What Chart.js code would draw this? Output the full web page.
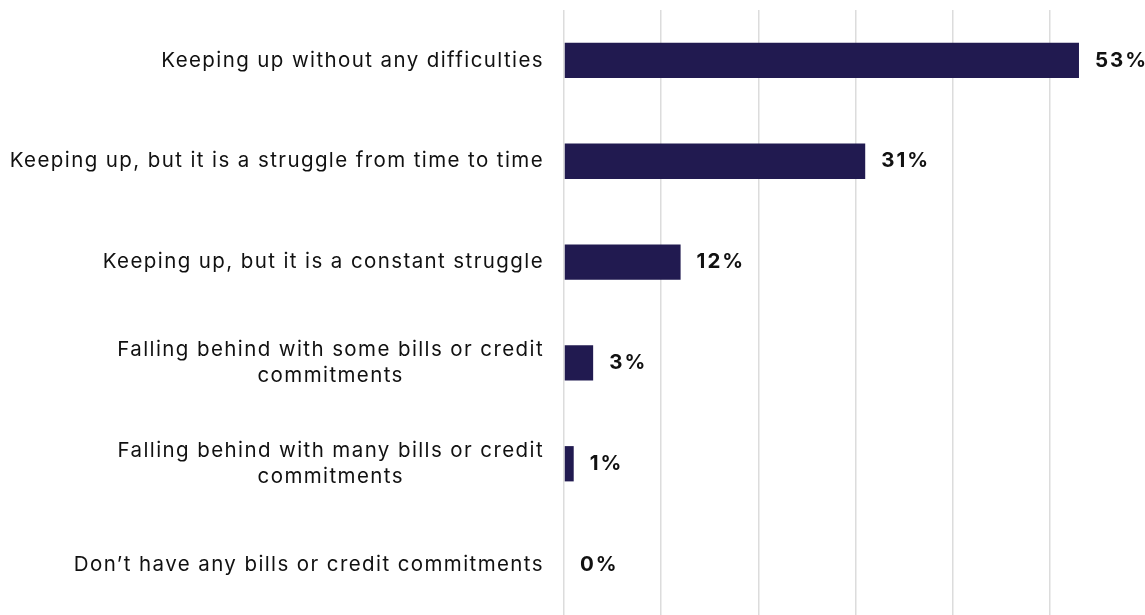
<!DOCTYPE html>
<html>
<head>
<meta charset="utf-8">
<script src="https://cdn.jsdelivr.net/npm/chart.js@4"></script>
<style>
    html, body { margin: 0; padding: 0; background: #ffffff; overflow: hidden; }
    #wrap { position: relative; width: 1147px; height: 615px; }
</style>
</head>
<body>
<div id="wrap"><canvas id="billsChart"></canvas></div>
<script>
// Survey answers, one row per category
const categories = [
    ['Keeping up without any difficulties'],
    ['Keeping up, but it is a struggle from time to time'],
    ['Keeping up, but it is a constant struggle'],
    ['Falling behind with some bills or credit', 'commitments'],
    ['Falling behind with many bills or credit', 'commitments'],
    ['Don\u2019t have any bills or credit commitments']
];
const shares = [53, 31, 12, 3, 1, 0];
const gridSteps = [0, 10, 20, 30, 40, 50, 60];

const barColor = '#211a50';
const textColor = '#111111';
const fontFamily = 'Inter, "Noto Sans", sans-serif';

// Draws the category names to the left of the plot and the value next to each bar
const barLabels = {
    id: 'barLabels',
    afterDatasetsDraw(chart) {
        const { ctx, chartArea, scales } = chart;
        const meta = chart.getDatasetMeta(0);
        ctx.save();
        ctx.fillStyle = textColor;
        ctx.textBaseline = 'middle';

        // category names, each block centred on its widest line, right edge fixed
        ctx.font = '20.5px ' + fontFamily;
        ctx.letterSpacing = '1.4px';
        ctx.textAlign = 'center';
        const lineHeight = 26;
        const rightEdge = chartArea.left - 20;
        categories.forEach((lines, i) => {
            const y = scales.y.getPixelForValue(i);
            const widest = Math.max(...lines.map(l => ctx.measureText(l).width));
            const cx = rightEdge - widest / 2;
            const top = y - (lines.length - 1) * lineHeight / 2;
            lines.forEach((line, j) => ctx.fillText(line, cx, top + j * lineHeight));
        });

        // value labels
        ctx.font = 'bold 20.5px ' + fontFamily;
        ctx.letterSpacing = '2px';
        ctx.textAlign = 'left';
        meta.data.forEach((bar, i) => {
            ctx.fillText(shares[i] + '%', bar.x + 16, bar.y);
        });
        ctx.restore();
    }
};

const ctx = document.getElementById('billsChart').getContext('2d');

new Chart(ctx, {
    type: 'bar',
    data: {
        labels: categories.map(c => c.join(' ')),
        datasets: [{
            data: shares,
            backgroundColor: barColor,
            borderWidth: 0,
            barPercentage: 0.35,
            categoryPercentage: 1
        }]
    },
    options: {
        indexAxis: 'y',
        responsive: true,
        maintainAspectRatio: false,
        animation: false,
        layout: {
            padding: { left: 564, top: 10, right: 0, bottom: 0 }
        },
        scales: {
            x: {
                min: gridSteps[0],
                max: gridSteps[gridSteps.length - 1],
                afterBuildTicks: scale => {
                    scale.ticks = gridSteps.map(v => ({ value: v }));
                },
                ticks: { display: false },
                border: { display: false },
                grid: {
                    color: '#dcdcdc',
                    lineWidth: 1.5,
                    drawTicks: false
                }
            },
            y: {
                display: false,
                grid: { display: false }
            }
        },
        plugins: {
            legend: { display: false },
            tooltip: { enabled: false }
        }
    },
    plugins: [barLabels]
});
</script>
</body>
</html>
